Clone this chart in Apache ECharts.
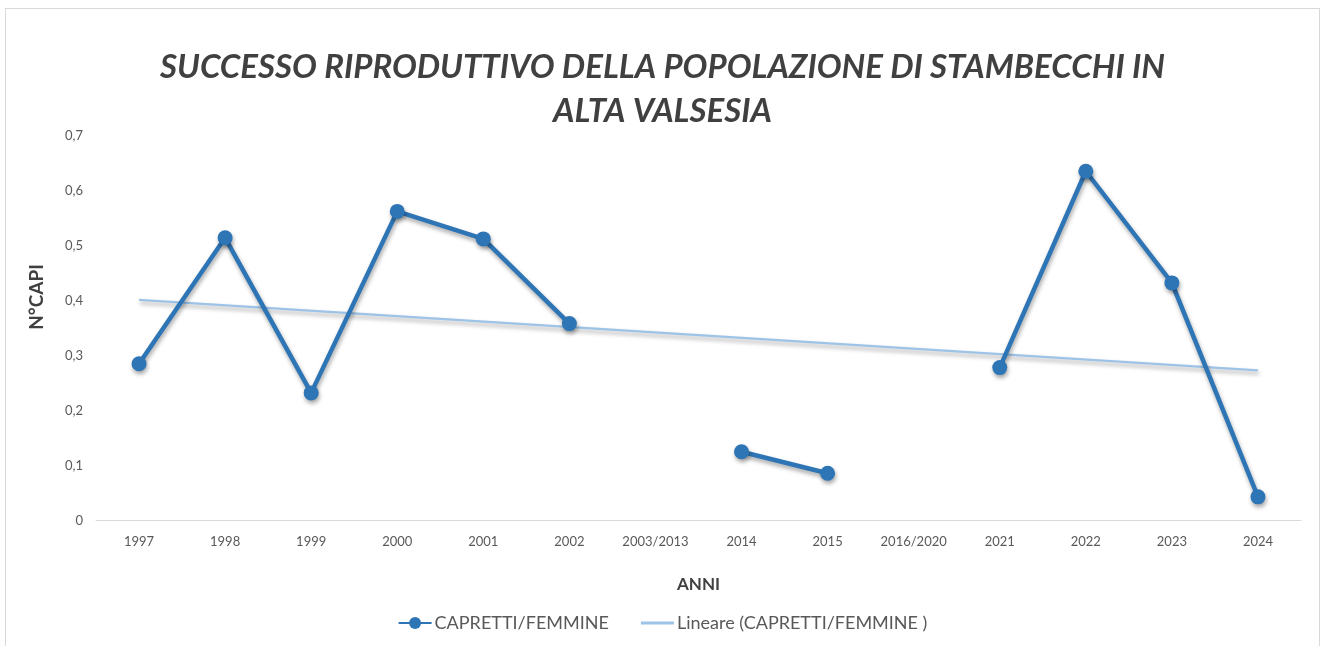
<!DOCTYPE html>
<html>
<head>
<meta charset="utf-8">
<script src="https://cdn.jsdelivr.net/npm/echarts@6/dist/echarts.min.js"></script>
<style>
    html, body {margin: 0; padding: 0; background: #ffffff;}
    #frame {position: absolute; left: 5px; top: 8px; width: 1315px; height: 660px; border: 1px solid #d9d9d9; box-sizing: border-box;}
    #chart {position: absolute; left: 0; top: 0; width: 1325px; height: 646px;}
</style>
</head>
<body>
<div id="frame"></div>
<div id="chart"></div>
<script>
const years = ["1997", "1998", "1999", "2000", "2001", "2002", "2003/2013", "2014", "2015", "2016/2020", "2021", "2022", "2023", "2024"];
const ratio = [0.285, 0.514, 0.232, 0.562, 0.512, 0.358, null, 0.125, 0.086, null, 0.278, 0.635, 0.432, 0.043];
const trend = [0.401, null, null, null, null, null, null, null, null, null, null, null, null, 0.273];
const yTicks = ["0", "0,1", "0,2", "0,3", "0,4", "0,5", "0,6", "0,7"];

const chart = echarts.init(document.getElementById("chart"));
const shadow = {shadowColor: "rgba(0,0,0,0.35)", shadowBlur: 4, shadowOffsetX: 1, shadowOffsetY: 3};

chart.setOption({
    backgroundColor: "transparent",
    textStyle: {fontFamily: "Lato"},
    title: {
        text: "SUCCESSO RIPRODUTTIVO DELLA POPOLAZIONE DI STAMBECCHI IN\nALTA VALSESIA",
        left: "center",
        top: 40,
        textStyle: {fontFamily: "Lato", fontSize: 33, fontWeight: "bold", fontStyle: "italic", color: "#404040", lineHeight: 44}
    },
    graphic: [{
        type: "text",
        x: 37,
        y: 297,
        rotation: Math.PI / 2,
        style: {text: "N°CAPI", font: "bold 19px Lato", fill: "#404040", textAlign: "center", textVerticalAlign: "middle"}
    }],
    legend: {
        bottom: 9,
        left: "center",
        itemWidth: 33,
        itemHeight: 15,
        itemGap: 32,
        textStyle: {fontSize: 18, color: "#595959", padding: [0, 0, 0, -2]},
        data: [
            {name: "CAPRETTI/FEMMINE"},
            {name: "Lineare (CAPRETTI/FEMMINE )", icon: "path://M0,0 L34,0 L34,3 L0,3 Z"}
        ]
    },
    grid: {left: 96, right: 24, top: 135.5, bottom: 125.5},
    xAxis: {
        type: "category",
        data: years,
        boundaryGap: true,
        name: "ANNI",
        nameLocation: "middle",
        nameGap: 56,
        nameTextStyle: {fontSize: 17, fontWeight: "bold", color: "#404040"},
        axisLine: {lineStyle: {color: "#d9d9d9", width: 1}},
        axisTick: {show: false},
        axisLabel: {fontSize: 13, color: "#595959", margin: 15, interval: 0}
    },
    yAxis: {
        type: "value",
        min: 0,
        max: 0.7,
        interval: 0.1,
        axisLine: {show: false},
        axisTick: {show: false},
        splitLine: {show: false},
        axisLabel: {fontSize: 13, color: "#595959", margin: 13, formatter: (v) => yTicks[Math.round(v * 10)]}
    },
    series: [
        {
            name: "CAPRETTI/FEMMINE",
            type: "line",
            data: ratio,
            connectNulls: false,
            symbol: "circle",
            symbolSize: 15,
            lineStyle: Object.assign({color: "#2e75b6", width: 4.5}, shadow),
            itemStyle: Object.assign({color: "#2e75b6"}, shadow),
            z: 3
        },
        {
            name: "Lineare (CAPRETTI/FEMMINE )",
            type: "line",
            data: trend,
            connectNulls: true,
            symbol: "none",
            lineStyle: Object.assign({color: "#9dc3e6", width: 2.2}, shadow),
            itemStyle: {color: "#9dc3e6"},
            z: 2
        }
    ]
});
</script>
</body>
</html>
